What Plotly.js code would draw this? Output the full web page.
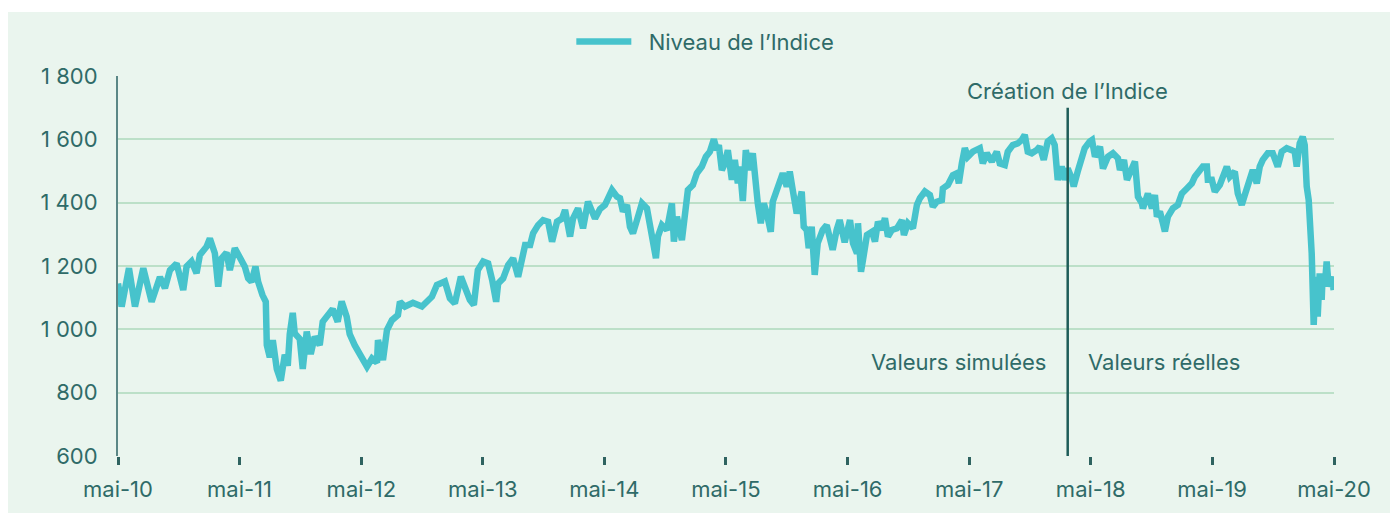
<!DOCTYPE html>
<html>
<head>
<meta charset="utf-8">
<script src="https://cdn.plot.ly/plotly-3.0.1.min.js"></script>
<style>
  html, body { margin: 0; padding: 0; background: #ffffff; width: 1394px; height: 513px; overflow: hidden; }
  #chart { position: absolute; left: 8px; top: 12px; width: 1382px; height: 501px; }
</style>
</head>
<body>
<div id="chart"></div>
<script>
// ---- data ----
const dates = [
"2010-05-01","2010-05-12","2010-06-03","2010-06-21","2010-07-16","2010-08-10","2010-09-04","2010-09-19","2010-10-04","2010-10-24",
"2010-11-13","2010-11-23","2010-12-08","2010-12-23","2011-01-02","2011-01-22","2011-02-01","2011-02-16","2011-02-26","2011-03-08",
"2011-03-23","2011-04-02","2011-04-17","2011-05-02","2011-05-17","2011-05-27","2011-06-06","2011-06-18","2011-06-26","2011-07-09",
"2011-07-19","2011-07-22","2011-07-31","2011-08-09","2011-08-21","2011-09-02","2011-09-14","2011-09-23","2011-09-29","2011-10-08",
"2011-10-14","2011-10-29","2011-11-07","2011-11-19","2011-12-01","2011-12-13","2011-12-28","2012-01-06","2012-01-27","2012-02-05",
"2012-02-20","2012-03-03","2012-03-18","2012-03-27","2012-04-11","2012-04-26","2012-05-09","2012-05-18","2012-06-02","2012-06-17",
"2012-06-20","2012-07-05","2012-07-17","2012-08-01","2012-08-19","2012-08-25","2012-09-09","2012-10-03","2012-10-30","2012-11-29",
"2012-12-14","2013-01-07","2013-01-22","2013-02-06","2013-02-24","2013-03-08","2013-03-23","2013-04-04","2013-04-16","2013-05-02",
"2013-05-17","2013-05-29","2013-06-10","2013-06-16","2013-07-01","2013-07-16","2013-07-31","2013-08-15","2013-08-27","2013-09-05",
"2013-09-20","2013-09-29","2013-10-14","2013-10-29","2013-11-13","2013-11-25","2013-12-10","2013-12-25","2014-01-03","2014-01-18",
"2014-01-27","2014-02-11","2014-02-26","2014-03-13","2014-04-03","2014-04-18","2014-05-03","2014-05-12","2014-05-24","2014-06-08",
"2014-06-17","2014-06-26","2014-07-08","2014-07-17","2014-07-26","2014-08-07","2014-08-22","2014-09-06","2014-09-15","2014-09-24",
"2014-10-03","2014-10-09","2014-10-21","2014-11-05","2014-11-14","2014-11-20","2014-11-26","2014-12-05","2014-12-20","2014-12-29",
"2015-01-07","2015-01-22","2015-02-03","2015-02-18","2015-03-02","2015-03-14","2015-03-26","2015-04-04","2015-04-10","2015-04-19",
"2015-04-28","2015-05-07","2015-05-19","2015-05-28","2015-06-06","2015-06-12","2015-06-21","2015-06-30","2015-07-09","2015-07-21",
"2015-07-27","2015-08-05","2015-08-14","2015-08-23","2015-09-01","2015-09-13","2015-09-19","2015-10-01","2015-10-10","2015-10-19",
"2015-10-31","2015-11-09","2015-11-18","2015-11-30","2015-12-15","2015-12-21","2015-12-30","2016-01-05","2016-01-14","2016-01-23",
"2016-02-01","2016-02-16","2016-02-28","2016-03-08","2016-03-17","2016-03-29","2016-04-07","2016-04-22","2016-05-08","2016-05-17",
"2016-05-29","2016-06-01","2016-06-10","2016-06-16","2016-06-28","2016-07-13","2016-07-22","2016-07-31","2016-08-12","2016-08-21",
"2016-08-30","2016-09-11","2016-09-26","2016-10-11","2016-10-17","2016-10-29","2016-11-13","2016-11-25","2016-12-04","2016-12-19",
"2017-01-03","2017-01-12","2017-01-24","2017-02-08","2017-02-11","2017-02-26","2017-03-13","2017-03-25","2017-03-31","2017-04-09",
"2017-04-18","2017-04-27","2017-05-12","2017-06-02","2017-06-11","2017-06-23","2017-07-08","2017-07-23","2017-08-01","2017-08-16",
"2017-08-25","2017-09-09","2017-09-24","2017-10-06","2017-10-15","2017-10-24","2017-11-05","2017-11-20","2017-11-29","2017-12-11",
"2017-12-23","2018-01-04","2018-01-13","2018-01-22","2018-02-03","2018-02-12","2018-02-21","2018-03-05","2018-03-11","2018-03-23",
"2018-04-04","2018-04-13","2018-04-28","2018-05-05","2018-05-14","2018-05-29","2018-06-07","2018-06-22","2018-07-07","2018-07-22",
"2018-07-28","2018-08-09","2018-08-18","2018-09-02","2018-09-11","2018-09-20","2018-10-02","2018-10-05","2018-10-20","2018-11-01",
"2018-11-10","2018-11-16","2018-11-25","2018-12-04","2018-12-10","2018-12-19","2019-01-03","2019-01-18","2019-01-30","2019-02-14",
"2019-03-01","2019-03-10","2019-03-19","2019-04-03","2019-04-15","2019-04-18","2019-04-30","2019-05-09","2019-05-24","2019-06-02",
"2019-06-14","2019-06-23","2019-07-08","2019-07-17","2019-07-29","2019-08-07","2019-08-19","2019-08-31","2019-09-12","2019-09-21",
"2019-09-30","2019-10-15","2019-10-30","2019-11-14","2019-11-26","2019-12-11","2019-12-26","2020-01-04","2020-01-10","2020-01-19",
"2020-01-28","2020-02-03","2020-02-09","2020-02-15","2020-02-24","2020-02-27","2020-03-01","2020-03-07","2020-03-13","2020-03-19",
"2020-03-25","2020-03-28","2020-04-03","2020-04-09","2020-04-15","2020-04-24","2020-04-30"
];
const niveau = [
1145,1072,1193,1072,1193,1087,1165,1130,1187,1208,
1124,1198,1214,1177,1235,1261,1287,1240,1135,1224,
1242,1187,1256,1224,1198,1161,1150,1198,1150,1108,
1087,950,912,966,875,838,920,885,985,1052,
987,970,875,993,922,977,950,1024,1050,1064,
1024,1088,1040,985,950,920,900,882,908,895,
966,903,998,1029,1045,1087,1072,1084,1072,1103,
1140,1151,1098,1082,1166,1130,1093,1077,1187,1214,
1208,1156,1087,1145,1161,1203,1224,1166,1235,1266,
1266,1303,1329,1345,1340,1277,1340,1350,1377,1293,
1350,1382,1319,1403,1350,1380,1393,1414,1440,1419,
1414,1372,1393,1324,1303,1345,1398,1382,1335,1272,
1225,1293,1329,1314,1382,1398,1277,1356,1282,1361,
1440,1456,1493,1514,1545,1561,1600,1566,1582,1503,
1524,1566,1472,1535,1461,1514,1405,1566,1503,1556,
1482,1398,1335,1398,1366,1308,1403,1435,1472,1493,
1451,1498,1440,1366,1435,1324,1314,1256,1324,1172,
1272,1314,1329,1282,1251,1314,1345,1275,1345,1272,
1240,1335,1182,1219,1298,1308,1277,1340,1314,1351,
1293,1314,1319,1345,1298,1335,1319,1393,1414,1435,
1424,1387,1403,1408,1445,1456,1487,1493,1461,1524,
1572,1545,1561,1572,1524,1556,1530,1561,1524,1519,
1561,1582,1587,1598,1614,1561,1556,1566,1577,1535,
1593,1603,1582,1472,1514,1472,1508,1477,1451,1498,
1535,1572,1593,1598,1545,1577,1508,1545,1556,1540,
1503,1535,1472,1514,1530,1419,1398,1382,1429,1382,
1424,1356,1372,1335,1309,1356,1382,1393,1429,1445,
1461,1482,1493,1514,1514,1472,1472,1435,1456,1482,
1514,1482,1498,1429,1393,1424,1472,1503,1461,1514,
1535,1556,1556,1514,1561,1572,1566,1561,1514,1587,
1608,1582,1451,1408,1240,1061,1014,1166,1040,1177,
1093,1177,1135,1214,1135,1166,1124
];
const tickDates = ["2010-05-01","2011-05-01","2012-05-01","2013-05-01","2014-05-01","2015-05-01","2016-05-01","2017-05-01","2018-05-01","2019-05-01","2020-05-01"];
const tickLabels = ["mai-10","mai-11","mai-12","mai-13","mai-14","mai-15","mai-16","mai-17","mai-18","mai-19","mai-20"];
const yTicks = [600, 800, 1000, 1200, 1400, 1600, 1800];
const seriesName = "Niveau de l’Indice";
const creationDate = "2018-02-21";
const creationLabel = "Création de l’Indice";
const leftLabel = "Valeurs simulées";
const rightLabel = "Valeurs réelles";

// ---- chart ----
const FONT = "Inter, 'Open Sans', sans-serif";
const FS = 22;
const TXT = "#2F6B68";

const trace = {
  x: dates, y: niveau, type: "scatter", mode: "lines",
  name: "\u00a0\u00a0" + seriesName,
  line: { color: "#47C3CC", width: 6.5, shape: "linear" },
  hoverinfo: "x+y"
};

const layout = {
  width: 1382, height: 501,
  margin: { l: 110, r: 56, t: 64, b: 57, autoexpand: false },
  paper_bgcolor: "#EAF5EE", plot_bgcolor: "#EAF5EE",
  font: { family: FONT, size: FS, color: TXT },
  separators: ", ",
  showlegend: true,
  legend: {
    orientation: "h", x: 0.483, xanchor: "center", y: 1.09, yanchor: "middle",
    bgcolor: "rgba(0,0,0,0)", font: { family: FONT, size: FS, color: TXT },
    itemwidth: 55
  },
  xaxis: {
    type: "date", range: ["2010-05-01", "2020-05-01"],
    tickvals: tickDates, ticktext: tickLabels,
    ticks: "outside", ticklen: 8, tickwidth: 3, tickcolor: "#2F6360",
    showgrid: false, showline: false, zeroline: false,
    ticklabelstandoff: 6,
    tickfont: { family: FONT, size: FS, color: TXT }
  },
  yaxis: {
    range: [600, 1800], tickvals: yTicks, separatethousands: true,
    showgrid: true, gridcolor: "#BCE0C8", gridwidth: 2,
    showline: true, linecolor: "#5B8786", linewidth: 2,
    zeroline: false, ticks: "", ticklabelstandoff: 14,
    tickfont: { family: FONT, size: FS, color: TXT }
  },
  shapes: [
    { type: "line", xref: "x", yref: "y", x0: creationDate, x1: creationDate, y0: 600, y1: 1700,
      line: { color: "#1E5C58", width: 2.5 } }
  ],
  annotations: [
    { xref: "x", yref: "y", x: creationDate, y: 1752, text: creationLabel, showarrow: false,
      xanchor: "center", yanchor: "middle", font: { family: FONT, size: FS, color: TXT } },
    { xref: "x", yref: "y", x: creationDate, y: 897, text: leftLabel, showarrow: false,
      xanchor: "right", xshift: -20, yanchor: "middle", font: { family: FONT, size: FS, color: TXT } },
    { xref: "x", yref: "y", x: creationDate, y: 897, text: rightLabel, showarrow: false,
      xanchor: "left", xshift: 18, yanchor: "middle", font: { family: FONT, size: FS, color: TXT } }
  ]
};

Plotly.newPlot("chart", [trace], layout, { displayModeBar: false, staticPlot: true });
</script>
</body>
</html>
